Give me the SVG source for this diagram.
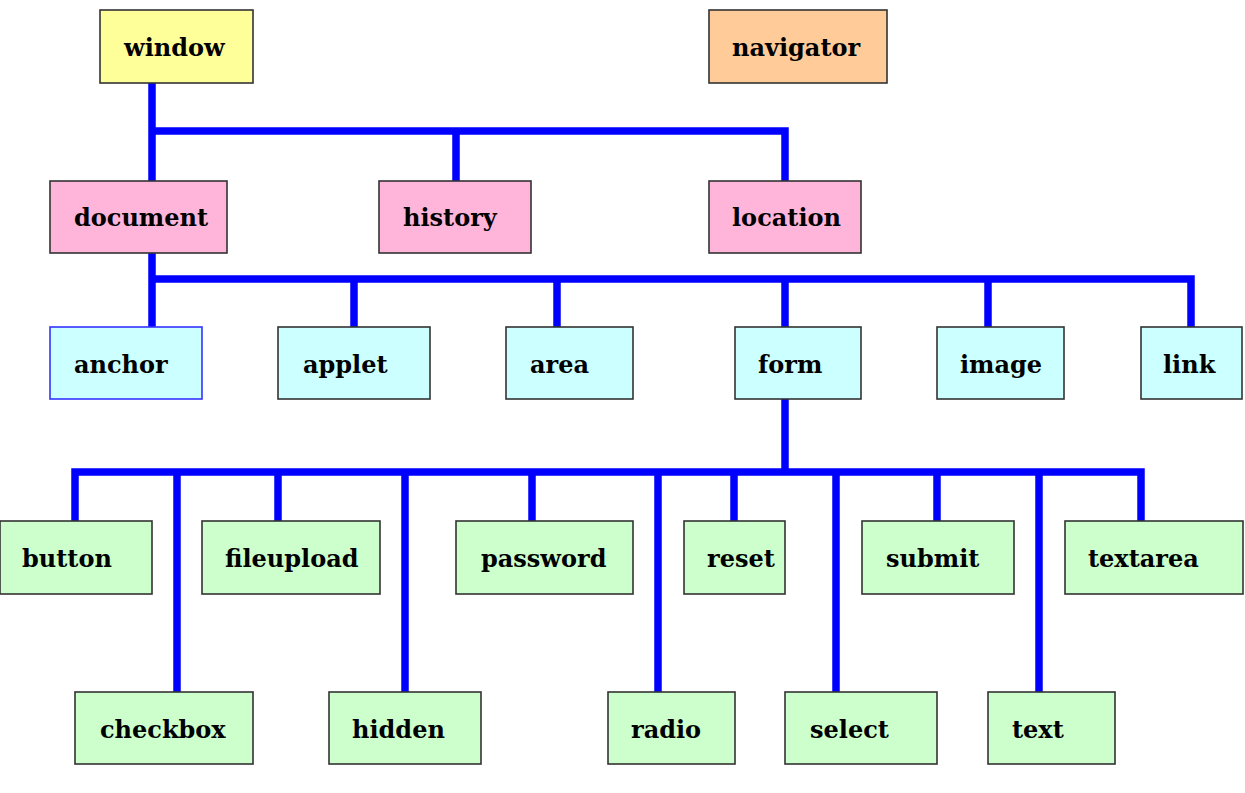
<svg xmlns="http://www.w3.org/2000/svg" width="1245" height="793" viewBox="0 0 1245 793">
<style>
.b{stroke:#333;stroke-width:1.6}
.y{fill:#FFFF99}.o{fill:#FFCC99}.p{fill:#FFB5DA}.c{fill:#CCFFFF}.g{fill:#CCFFCC}
text{font-family:"DejaVu Serif","Liberation Serif",serif;font-weight:bold;font-size:24px;fill:#000}
.w{fill:none;stroke:#0000FF;stroke-width:7.5;stroke-linejoin:miter}
</style>
<rect width="1245" height="793" fill="#fff"/>
<g id="connectors" class="w">
<path d="M152 83V181M152 131H785V181M456 131V181"/>
<path d="M152 253V327M152 279H1191V327M354 279V327M557 279V327M785 279V327M988 279V327"/>
<path d="M785 399V472M75 521V472H1141V521M177 472V692M278 472V521M405 472V692M532 472V521M658 472V692M734 472V521M836 472V692M937 472V521M1039 472V692"/>
</g>
<g id="window"><rect class="b y" x="100" y="10" width="153" height="73"/><text x="124" y="56">window</text></g>
<g id="navigator"><rect class="b o" x="709" y="10" width="178" height="73"/><text x="732" y="56">navigator</text></g>
<g id="document"><rect class="b p" x="50" y="181" width="177" height="72"/><text x="74" y="226">document</text></g>
<g id="history"><rect class="b p" x="379" y="181" width="152" height="72"/><text x="403" y="226">history</text></g>
<g id="location"><rect class="b p" x="709" y="181" width="152" height="72"/><text x="732" y="226">location</text></g>
<g id="anchor"><rect class="c" x="50" y="327" width="152" height="72" stroke="#3333FF" stroke-width="1.6"/><text x="74" y="373">anchor</text></g>
<g id="applet"><rect class="b c" x="278" y="327" width="152" height="72"/><text x="303" y="373">applet</text></g>
<g id="area"><rect class="b c" x="506" y="327" width="127" height="72"/><text x="530" y="373">area</text></g>
<g id="form"><rect class="b c" x="735" y="327" width="126" height="72"/><text x="758" y="373">form</text></g>
<g id="image"><rect class="b c" x="937" y="327" width="127" height="72"/><text x="960" y="373">image</text></g>
<g id="link"><rect class="b c" x="1141" y="327" width="101" height="72"/><text x="1163" y="373">link</text></g>
<g id="button"><rect class="b g" x="0" y="521" width="152" height="73"/><text x="22" y="567">button</text></g>
<g id="fileupload"><rect class="b g" x="202" y="521" width="178" height="73"/><text x="225" y="567">fileupload</text></g>
<g id="password"><rect class="b g" x="456" y="521" width="177" height="73"/><text x="481" y="567">password</text></g>
<g id="reset"><rect class="b g" x="684" y="521" width="101" height="73"/><text x="707" y="567">reset</text></g>
<g id="submit"><rect class="b g" x="862" y="521" width="152" height="73"/><text x="886" y="567">submit</text></g>
<g id="textarea"><rect class="b g" x="1065" y="521" width="178" height="73"/><text x="1088" y="567">textarea</text></g>
<g id="checkbox"><rect class="b g" x="75" y="692" width="178" height="72"/><text x="100" y="738">checkbox</text></g>
<g id="hidden"><rect class="b g" x="329" y="692" width="152" height="72"/><text x="352" y="738">hidden</text></g>
<g id="radio"><rect class="b g" x="608" y="692" width="127" height="72"/><text x="631" y="738">radio</text></g>
<g id="select"><rect class="b g" x="785" y="692" width="152" height="72"/><text x="810" y="738">select</text></g>
<g id="text"><rect class="b g" x="988" y="692" width="127" height="72"/><text x="1012" y="738">text</text></g>
</svg>
